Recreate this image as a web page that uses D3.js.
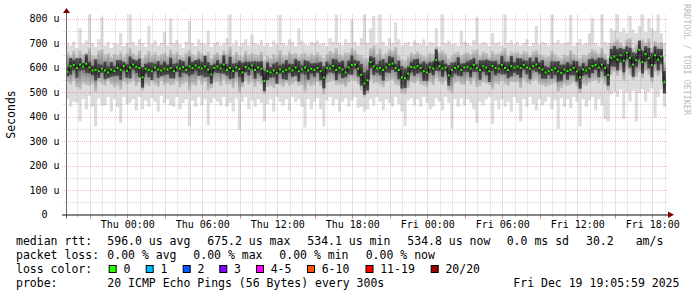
<!DOCTYPE html>
<head>
<meta charset="utf-8">
<style>
body { margin: 0; background: #fff; }
svg { display: block; font-family: "DejaVu Sans Mono", monospace; }
.legend text { font-size: 11.5px; fill: #000; white-space: pre; }
.axis text { font-size: 10px; fill: #000; font-family: "DejaVu Sans Mono", monospace; white-space: pre; }
</style>
</head>
<body>
<script src="https://cdnjs.cloudflare.com/ajax/libs/d3/7.8.5/d3.min.js"></script>
<script>

// 48h window, one value per 15 minutes (192 points), microseconds
var medRtt = [
  582, 605, 610, 598, 612, 604, 615, 600, 588, 590, 585, 595, 588, 580, 592, 586,
  598, 590, 605, 586, 600, 612, 603, 598, 560, 595, 590, 585, 600, 592, 588, 596,
  592, 598, 585, 600, 596, 602, 590, 605, 598, 608, 600, 596, 604, 592, 572, 598,
  604, 596, 612, 590, 598, 586, 600, 594, 580, 602, 596, 608, 590, 600, 595, 545,
  585, 580, 588, 578, 592, 584, 590, 596, 588, 600, 585, 593, 600, 588, 595, 590,
  598, 585, 560, 598, 596, 606, 590, 598, 592, 580, 600, 610, 612, 595, 570, 535,
  548, 622, 605, 596, 598, 590, 600, 612, 616, 598, 590, 560, 556, 575, 602, 600,
  605, 598, 585, 580, 600, 596, 630, 605, 596, 600, 568, 590, 598, 604, 590, 600,
  603, 596, 610, 598, 590, 605, 600, 585, 606, 598, 595, 610, 598, 590, 605, 600,
  604, 598, 610, 600, 596, 606, 612, 598, 592, 580, 585, 590, 596, 584, 578, 592,
  586, 590, 598, 584, 560, 592, 588, 596, 606, 610, 600, 612, 598, 570, 640, 645,
  632, 650, 628, 660, 640, 612, 630, 672, 622, 655, 638, 610, 650, 632, 645, 540
];

// slowest ping of each interval
var maxRtt = [
  700, 690, 705, 680, 760, 695, 710, 830, 700, 685, 715, 805, 690, 705, 680, 700,
  695, 740, 688, 700, 825, 705, 690, 715, 700, 685, 770, 695, 710, 690, 700, 745,
  690, 800, 700, 712, 695, 680, 705, 790, 700, 688, 715, 700, 695, 750, 685, 700,
  705, 690, 700, 720, 830, 695, 710, 688, 700, 715, 690, 735, 700, 695, 712, 690,
  700, 685, 710, 695, 815, 700, 690, 715, 705, 688, 760, 710, 695, 690, 705, 700,
  710, 695, 700, 688, 720, 705, 820, 700, 690, 715, 700, 795, 705, 690, 720, 830,
  700, 760, 810, 695, 830, 705, 690, 720, 700, 785, 715, 690, 700, 705, 688, 710,
  700, 695, 715, 690, 705, 700, 760, 688, 825, 700, 710, 695, 700, 690, 750, 705,
  700, 690, 712, 805, 695, 705, 700, 688, 740, 700, 705, 690, 820, 700, 710, 695,
  705, 690, 700, 715, 688, 700, 770, 695, 705, 700, 690, 830, 700, 712, 695, 700,
  705, 815, 690, 700, 715, 695, 700, 740, 800, 700, 690, 830, 705, 700, 760, 750,
  825, 745, 760, 740, 810, 755, 740, 770, 830, 745, 800, 760, 750, 820, 740, 700
];

// fastest ping of each interval
var minRtt = [
  470, 440, 460, 455, 380, 470, 430, 485, 440, 360, 475, 445, 445, 480, 420, 470,
  440, 375, 480, 450, 455, 470, 425, 480, 430, 465, 440, 475, 460, 420, 485, 455,
  470, 445, 440, 480, 430, 455, 470, 360, 465, 440, 480, 445, 470, 365, 455, 475,
  460, 445, 480, 440, 455, 420, 475, 345, 460, 480, 430, 465, 440, 470, 455, 380,
  450, 470, 420, 480, 460, 445, 470, 425, 480, 460, 470, 440, 355, 470, 430, 460,
  475, 430, 360, 465, 480, 445, 470, 420, 460, 475, 440, 465, 480, 435, 440, 420,
  430, 470, 445, 480, 460, 425, 470, 455, 440, 480, 450, 420, 360, 465, 475, 445,
  470, 440, 480, 455, 430, 440, 475, 460, 425, 480, 455, 350, 470, 440, 475, 445,
  470, 455, 430, 375, 460, 445, 470, 480, 370, 465, 430, 470, 440, 460, 420, 480,
  455, 380, 470, 440, 480, 450, 425, 470, 445, 460, 480, 430, 465, 350, 475, 440,
  470, 435, 480, 460, 360, 470, 440, 465, 480, 425, 470, 445, 390, 380, 490, 500,
  480, 510, 390, 500, 460, 505, 380, 495, 510, 460, 500, 515, 395, 480, 510, 440
];

// upper / lower edge of the middle pings
var hiRtt = [
  660, 650, 668, 645, 672, 655, 662, 680, 650, 648, 670, 675, 652, 660, 645, 655,
  650, 665, 645, 658, 680, 660, 650, 670, 640, 652, 668, 650, 662, 648, 655, 660,
  648, 675, 655, 665, 650, 645, 660, 672, 655, 648, 668, 658, 650, 665, 640, 655,
  662, 650, 670, 658, 685, 648, 665, 650, 645, 668, 652, 660, 655, 650, 665, 630,
  648, 640, 655, 645, 672, 650, 648, 665, 655, 660, 645, 655, 662, 648, 658, 650,
  662, 648, 640, 655, 668, 660, 680, 655, 650, 662, 660, 680, 672, 655, 650, 640,
  640, 680, 690, 655, 678, 650, 660, 675, 670, 685, 650, 635, 630, 645, 662, 655,
  665, 655, 648, 645, 660, 655, 685, 662, 670, 658, 640, 650, 660, 665, 650, 658,
  662, 655, 670, 675, 650, 665, 660, 645, 668, 655, 658, 665, 680, 648, 665, 660,
  665, 655, 668, 662, 650, 665, 672, 655, 650, 645, 648, 670, 655, 645, 640, 652,
  648, 672, 655, 645, 640, 652, 650, 660, 675, 668, 658, 680, 655, 640, 700, 705,
  715, 702, 690, 715, 720, 680, 695, 705, 715, 700, 720, 680, 710, 700, 705, 620
];

var loRtt = [
  540, 530, 545, 520, 510, 535, 528, 525, 530, 500, 540, 532, 525, 545, 530, 520,
  528, 510, 540, 530, 535, 545, 525, 538, 505, 530, 522, 540, 530, 520, 545, 528,
  535, 525, 530, 545, 520, 532, 540, 505, 530, 525, 548, 530, 540, 505, 515, 538,
  540, 525, 548, 530, 532, 515, 540, 495, 520, 545, 530, 540, 520, 538, 530, 490,
  520, 525, 515, 530, 528, 520, 535, 525, 532, 540, 525, 528, 500, 530, 522, 528,
  540, 525, 490, 535, 540, 545, 528, 530, 530, 520, 538, 548, 545, 532, 505, 480,
  490, 550, 535, 538, 530, 520, 540, 545, 548, 530, 525, 495, 490, 515, 540, 535,
  545, 530, 525, 520, 540, 528, 555, 540, 530, 545, 505, 495, 535, 540, 530, 528,
  545, 530, 548, 520, 525, 540, 535, 528, 510, 535, 530, 545, 532, 525, 540, 538,
  540, 515, 548, 535, 530, 545, 550, 532, 528, 520, 525, 530, 535, 500, 515, 530,
  525, 530, 538, 522, 495, 530, 525, 535, 545, 548, 535, 550, 530, 505, 570, 580,
  565, 585, 545, 595, 570, 550, 560, 580, 555, 585, 570, 540, 580, 565, 578, 500
];

// spread of the pings closest to the median
var coreSpread = [
  18, 34, 22, 40, 26, 15, 38, 24, 20, 44, 28, 17, 36, 24, 30, 20,
  32, 40, 18, 28, 45, 22, 26, 38, 42, 20, 30, 36, 16, 34, 24, 28,
  20, 42, 30, 18, 36, 24, 16, 40, 26, 22, 34, 28, 44, 30, 38, 18,
  26, 20, 38, 24, 46, 30, 18, 34, 40, 22, 28, 16, 36, 24, 30, 42,
  36, 22, 28, 44, 18, 32, 40, 20, 26, 34, 42, 18, 30, 38, 22, 28,
  20, 38, 45, 26, 16, 30, 42, 24, 36, 20, 28, 40, 18, 32, 44, 46,
  42, 24, 36, 18, 30, 44, 20, 34, 26, 16, 38, 46, 40, 28, 22, 34,
  30, 18, 40, 36, 22, 28, 44, 20, 34, 16, 42, 30, 24, 38, 26, 18,
  22, 36, 28, 16, 40, 24, 32, 44, 20, 30, 18, 38, 26, 34, 42, 22,
  34, 40, 20, 28, 44, 18, 30, 24, 38, 26, 16, 36, 28, 42, 34, 20,
  36, 22, 30, 42, 46, 26, 18, 38, 30, 20, 40, 28, 34, 44, 36, 42,
  44, 30, 48, 26, 40, 50, 28, 38, 46, 32, 42, 50, 36, 44, 30, 46
];

var yTicks = [0, 100, 200, 300, 400, 500, 600, 700, 800];

var rttStats = ["596.0 us avg", "675.2 us max", "534.1 us min", "534.8 us now", "0.0 ms sd", "30.2", "am/s"];
var lossStats = ["0.00 % avg", "0.00 % max", "0.00 % min", "0.00 % now"];
var lossLabels = ["0", "1", "2", "3", "4-5", "6-10", "11-19", "20/20"];
var lossColors = ["#26ff00", "#00b8ff", "#0059ff", "#7e00ff", "#ff00ff", "#ff5500", "#ff0000", "#a10000"];
var probeText = "20 ICMP Echo Pings (56 Bytes) every 300s";
var stampText = "Fri Dec 19 19:05:59 2025";

// layout
var width = 697, height = 297;
var plotL = 66, plotR = 666, plotT = 14.5, plotB = 214.5;
var rttX = [107.3, 207.3, 307.3, 407.3, 506.7, 586, 635.7];
var lossX = [107.3, 193.3, 279.3, 365.7];
var swatchX = [108.7, 145.7, 182.7, 219.3, 256, 307, 365.5, 430.7];

var start = new Date(2025, 11, 17, 19, 5, 59),
    end = new Date(2025, 11, 19, 19, 5, 59),
    step = 15 * 60 * 1000;

var x = d3.scaleTime().domain([start, end]).range([plotL, plotR]);
var y = d3.scaleLinear().domain([0, 800 * 200 / 196]).range([plotB, plotT]);

var svg = d3.select("body").append("svg")
    .attr("width", width)
    .attr("height", height);

var defs = svg.append("defs");
defs.append("clipPath").attr("id", "plot")
  .append("rect")
    .attr("x", plotL).attr("y", plotT)
    .attr("width", plotR - plotL).attr("height", plotB - plotT);

function vGrad(id, edge, mid) {
  var gr = defs.append("linearGradient").attr("id", id)
      .attr("x1", 0).attr("x2", 0).attr("y1", 0).attr("y2", 1);
  gr.append("stop").attr("offset", "0%").attr("stop-color", edge);
  gr.append("stop").attr("offset", "50%").attr("stop-color", mid);
  gr.append("stop").attr("offset", "100%").attr("stop-color", edge);
}
vGrad("midSmoke", "#c4c4c4", "#707070");
vGrad("coreSmoke", "#4e4e4e", "#242424");

var rows = medRtt.map(function(m, i) {
  return { t: new Date(+start + i * step), med: m, max: maxRtt[i], min: minRtt[i],
           hi: hiRtt[i], lo: loRtt[i], cs: coreSpread[i] };
});
var stepped = rows.concat([Object.assign({}, rows[rows.length - 1], { t: end })]);
var stepW = x(new Date(+start + step)) - x(start);

var g = svg.append("g").attr("clip-path", "url(#plot)");

// outer smoke: fastest .. slowest ping
g.append("path")
    .attr("d", d3.area()
      .x(function(d) { return x(d.t); })
      .y0(function(d) { return y(d.min); })
      .y1(function(d) { return y(d.max); })
      .curve(d3.curveStepAfter)(stepped))
    .attr("fill", "#dcdcdc");

function smokeBars(cls, lo, hi, fill) {
  g.selectAll("rect." + cls).data(rows).enter().append("rect")
      .attr("class", cls)
      .attr("x", function(d) { return x(d.t); })
      .attr("width", stepW)
      .attr("y", function(d) { return y(hi(d)); })
      .attr("height", function(d) { return y(lo(d)) - y(hi(d)); })
      .attr("fill", fill);
}
smokeBars("mid", function(d) { return d.lo; }, function(d) { return d.hi; }, "url(#midSmoke)");
smokeBars("core", function(d) { return d.med - d.cs; }, function(d) { return d.med + d.cs; }, "url(#coreSmoke)");

// median: dark steps with a green dash per interval
g.append("path")
    .attr("d", d3.line()
      .x(function(d) { return x(d.t); })
      .y(function(d) { return y(d.med); })
      .curve(d3.curveStepAfter)(stepped))
    .attr("fill", "none")
    .attr("stroke", "#111")
    .attr("stroke-width", 1);

g.selectAll("rect.med").data(rows).enter().append("rect")
    .attr("class", "med")
    .attr("x", function(d) { return x(d.t) + 0.5; })
    .attr("y", function(d) { return y(d.med) - 1; })
    .attr("width", 2)
    .attr("height", 2)
    .attr("fill", lossColors[0]);

// grid on top, dotted
var grid = svg.append("g").attr("stroke-dasharray", "1,1").attr("stroke-width", 1);
var minorY = d3.range(50, 801, 100);
grid.selectAll("line.hy").data(minorY).enter().append("line")
    .attr("x1", plotL - 4).attr("x2", plotR + 2)
    .attr("y1", function(d) { return Math.round(y(d)) + 0.5; })
    .attr("y2", function(d) { return Math.round(y(d)) + 0.5; })
    .attr("stroke", "rgba(140,140,140,0.35)");
grid.selectAll("line.hY").data(yTicks.slice(1)).enter().append("line")
    .attr("x1", plotL - 4).attr("x2", plotR + 2)
    .attr("y1", function(d) { return Math.round(y(d)) + 0.5; })
    .attr("y2", function(d) { return Math.round(y(d)) + 0.5; })
    .attr("stroke", "rgba(200,40,40,0.33)");

var hours = d3.timeHour.range(start, end);
grid.selectAll("line.v").data(hours).enter().append("line")
    .attr("x1", function(d) { return Math.round(x(d)) + 0.5; })
    .attr("x2", function(d) { return Math.round(x(d)) + 0.5; })
    .attr("y1", plotT).attr("y2", plotB)
    .attr("stroke", function(d) { return d.getHours() % 3 ? "rgba(140,140,140,0.35)" : "rgba(200,40,40,0.33)"; });

// tick marks under the time axis
svg.selectAll("line.tk").data(hours).enter().append("line")
    .attr("x1", function(d) { return Math.round(x(d)) + 0.5; })
    .attr("x2", function(d) { return Math.round(x(d)) + 0.5; })
    .attr("y1", plotB)
    .attr("y2", function(d) { return d.getHours() % 3 ? plotB + 2.5 : plotB + 4; })
    .attr("stroke", function(d) { return d.getHours() % 3 ? "#bbb" : "#c88"; });

// axes lines + arrows
svg.append("line").attr("x1", plotL + 0.5).attr("x2", plotL + 0.5)
    .attr("y1", plotB + 4).attr("y2", 11).attr("stroke", "#666");
svg.append("line").attr("x1", plotL - 4).attr("x2", 670)
    .attr("y1", plotB + 0.5).attr("y2", plotB + 0.5).attr("stroke", "#111");
svg.append("path").attr("d", "M63,13L70,13L66.5,8Z").attr("fill", "#7f0000");
svg.append("path").attr("d", "M668,211.5L668,218L674,214.75Z").attr("fill", "#7f0000");

// axis labels through d3 axes
var xAxis = svg.append("g").attr("class", "axis")
    .attr("transform", "translate(0," + plotB + ")")
    .call(d3.axisBottom(x)
      .tickValues(d3.timeHour.every(6).range(start, end))
      .tickFormat(d3.timeFormat("%a %H:%M"))
      .tickSize(0).tickPadding(6.7));
xAxis.select(".domain").remove();

var yAxis = svg.append("g").attr("class", "axis")
    .attr("transform", "translate(" + plotL + ",0)")
    .call(d3.axisLeft(y)
      .tickValues(yTicks)
      .tickFormat(function(d) { return d ? d + " u" : "0  "; })
      .tickSize(0).tickPadding(6.5));
yAxis.select(".domain").remove();

svg.append("text")
    .attr("transform", "translate(14.5," + ((plotT + plotB) / 2) + ") rotate(-90)")
    .attr("text-anchor", "middle")
    .style("font-size", "11.5px")
    .text("Seconds");

svg.append("text")
    .attr("transform", "translate(684,4) rotate(90)")
    .style("font-size", "8.4px")
    .attr("fill", "#bdbdbd")
    .text("RRDTOOL / TOBI OETIKER");

// legend
var legend = svg.append("g").attr("class", "legend");
var rowY = [245, 259, 273, 287];

legend.append("text").attr("x", 16).attr("y", rowY[0]).text("median rtt:");
legend.selectAll("text.rtt").data(rttStats).enter().append("text")
    .attr("x", function(d, i) { return rttX[i]; })
    .attr("y", rowY[0]).text(function(d) { return d; });

legend.append("text").attr("x", 16).attr("y", rowY[1]).text("packet loss:");
legend.selectAll("text.loss").data(lossStats).enter().append("text")
    .attr("x", function(d, i) { return lossX[i]; })
    .attr("y", rowY[1]).text(function(d) { return d; });

legend.append("text").attr("x", 16).attr("y", rowY[2]).text("loss color:");
legend.selectAll("rect.sw").data(lossColors).enter().append("rect")
    .attr("x", function(d, i) { return swatchX[i] + 0.5; })
    .attr("y", 265.5).attr("width", 7).attr("height", 7)
    .attr("fill", function(d) { return d; })
    .attr("stroke", "#000");
legend.selectAll("text.lc").data(lossLabels).enter().append("text")
    .attr("x", function(d, i) { return swatchX[i] + 14.7; })
    .attr("y", rowY[2]).text(function(d) { return d; });

legend.append("text").attr("x", 16).attr("y", rowY[3]).text("probe:");
legend.append("text").attr("x", 107.3).attr("y", rowY[3]).text(probeText);
legend.append("text").attr("x", 513.3).attr("y", rowY[3]).text(stampText);

</script>
</body>
</html>
